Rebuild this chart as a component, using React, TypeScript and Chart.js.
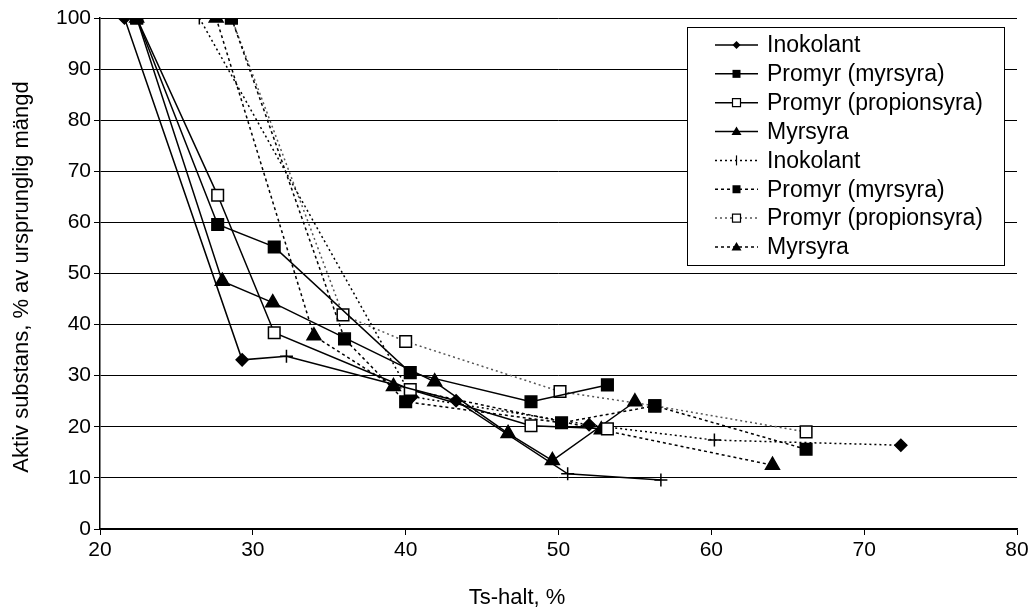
import React, { useEffect, useRef } from 'react';
import { Chart, registerables } from 'chart.js';
Chart.register(...registerables);

const FONT = "'Liberation Sans', Arial, sans-serif";

const xTicks = [20, 30, 40, 50, 60, 70, 80];
const yTicks = [0, 10, 20, 30, 40, 50, 60, 70, 80, 90, 100];
const xTitle = 'Ts-halt, %';
const yTitle = 'Aktiv substans, % av ursprunglig mängd';

const legendLabels = [
  'Inokolant', 'Promyr (myrsyra)', 'Promyr (propionsyra)', 'Myrsyra',
  'Inokolant', 'Promyr (myrsyra)', 'Promyr (propionsyra)', 'Myrsyra',
];

// Solid series
const inokolantSolidX = [21.6, 29.3, 32.2, 43.3, 50.6, 56.7];
const inokolantSolidY = [100, 33.1, 33.8, 25.1, 10.8, 9.6];
const promyrMyrSolidX = [22.4, 27.7, 31.4, 40.3, 48.2, 53.2];
const promyrMyrSolidY = [100, 59.6, 55.2, 30.6, 24.9, 28.2];
const promyrPropSolidX = [22.4, 27.7, 31.4, 40.3, 48.2, 53.2];
const promyrPropSolidY = [100, 65.3, 38.4, 27.3, 20.2, 19.6];
const myrsyraSolidX = [22.4, 28.0, 31.3, 41.9, 46.7, 49.6, 55.0];
const myrsyraSolidY = [100, 48.5, 44.3, 28.8, 18.7, 13.4, 24.9];

// Dotted series
const inokolantDotX = [26.5, 40.4, 52.0, 60.2, 72.4];
const inokolantDotY = [100, 25.9, 20.4, 17.4, 16.4];
const promyrMyrDotX = [28.6, 36.0, 40.0, 50.2, 56.3, 66.2];
const promyrMyrDotY = [100, 37.2, 24.9, 20.8, 24.1, 15.6];
const promyrPropDotX = [28.6, 35.9, 40.0, 50.1, 56.3, 66.2];
const promyrPropDotY = [100, 41.9, 36.7, 26.9, 24.1, 19.0];
const myrsyraDotX = [27.6, 34.0, 39.2, 52.8, 64.0];
const myrsyraDotY = [100, 37.8, 27.9, 19.4, 12.5];

const pts = (xs: number[], ys: number[]) => xs.map((x, i) => ({ x, y: ys[i] }));

const radiusFor = (s: string) =>
  s === 'rectRot' ? 6 : s === 'cross' ? 6.5 : s === 'rect' ? 8.2 : s === 'triangle' ? 8 : 5;

type Mk = 'diamond' | 'cross' | 'square' | 'open' | 'triangle';
const legendMarkers: Mk[] = ['diamond', 'square', 'open', 'triangle', 'cross', 'square', 'open', 'triangle'];

function drawMarker(ctx: CanvasRenderingContext2D, m: Mk, x: number, y: number) {
  ctx.save();
  ctx.setLineDash([]);
  ctx.lineWidth = 1.2;
  ctx.strokeStyle = '#000';
  ctx.fillStyle = '#000';
  ctx.beginPath();
  if (m === 'diamond') {
    const s = 4;
    ctx.moveTo(x, y - s); ctx.lineTo(x + s, y); ctx.lineTo(x, y + s); ctx.lineTo(x - s, y); ctx.closePath();
    ctx.fill();
  } else if (m === 'cross') {
    ctx.moveTo(x, y - 5); ctx.lineTo(x, y + 5);
    ctx.stroke();
  } else if (m === 'square' || m === 'open') {
    const s = 4;
    ctx.rect(x - s, y - s, 2 * s, 2 * s);
    if (m === 'square') ctx.fill(); else { ctx.fillStyle = '#fff'; ctx.fill(); ctx.stroke(); }
  } else {
    const s = 5;
    ctx.moveTo(x, y - s); ctx.lineTo(x + s, y + s * 0.7); ctx.lineTo(x - s, y + s * 0.7); ctx.closePath();
    ctx.fill();
  }
  ctx.restore();
}

export default function App() {
  const ref = useRef<HTMLCanvasElement | null>(null);
  useEffect(() => {
    document.body.style.margin = '0';
    const canvas = ref.current!;
    const solid = (label: string, data: any[], styles: string | string[], open = false) => ({
      label, data, showLine: true, borderColor: '#000', borderWidth: 1.5,
      pointStyle: styles,
      pointRadius: (c: any) => radiusFor(Array.isArray(styles) ? styles[c.dataIndex] : styles),
      pointBorderColor: '#000', pointBackgroundColor: open ? '#fff' : '#000', pointBorderWidth: 1.5,
      backgroundColor: '#000',
    });
    const dotted = (label: string, data: any[], styles: string | string[], dash: number[], color: string, open = false) => ({
      ...solid(label, data, styles, open), borderDash: dash, borderColor: color,
    });
    const legendDash: number[][] = [[], [], [], [], [2, 3], [3, 3], [2, 3], [3, 3]];
    const legendColor = ['#000', '#000', '#000', '#000', '#000', '#000', '#555', '#000'];

    const legendPlugin = {
      id: 'boxLegend',
      afterDraw(chart: any) {
        const ctx: CanvasRenderingContext2D = chart.ctx;
        const x0 = 687, y0 = 27, w = 317, h = 238;
        ctx.save();
        ctx.fillStyle = '#fff';
        ctx.fillRect(x0, y0, w, h);
        ctx.strokeStyle = '#000';
        ctx.lineWidth = 1;
        ctx.strokeRect(x0 + 0.5, y0 + 0.5, w, h);
        legendLabels.forEach((lab, i) => {
          const y = y0 + 18 + i * 28.85;
          ctx.beginPath();
          ctx.setLineDash(legendDash[i]);
          ctx.strokeStyle = legendColor[i];
          ctx.lineWidth = 1.5;
          ctx.moveTo(x0 + 28, y);
          ctx.lineTo(x0 + 71, y);
          ctx.stroke();
          drawMarker(ctx, legendMarkers[i], x0 + 49.5, y);
          ctx.setLineDash([]);
          ctx.fillStyle = '#000';
          ctx.font = `23px ${FONT}`;
          ctx.textBaseline = 'middle';
          ctx.textAlign = 'left';
          ctx.fillText(lab, x0 + 80, y + 1);
        });
        // axis titles
        ctx.font = `22px ${FONT}`;
        ctx.fillStyle = '#000';
        ctx.textAlign = 'center';
        ctx.textBaseline = 'middle';
        ctx.fillText(xTitle, 517, 598);
        ctx.translate(22, 277);
        ctx.rotate(-Math.PI / 2);
        ctx.fillText(yTitle, 0, 0);
        ctx.restore();
      },
    };

    const chart = new Chart(canvas, {
      type: 'scatter',
      data: {
        datasets: [
          solid(legendLabels[0], pts(inokolantSolidX, inokolantSolidY), ['rectRot', 'rectRot', 'cross', 'rectRot', 'cross', 'cross']),
          solid(legendLabels[1], pts(promyrMyrSolidX, promyrMyrSolidY), 'rect'),
          solid(legendLabels[2], pts(promyrPropSolidX, promyrPropSolidY), 'rect', true),
          solid(legendLabels[3], pts(myrsyraSolidX, myrsyraSolidY), 'triangle'),
          dotted(legendLabels[4], pts(inokolantDotX, inokolantDotY), ['cross', 'rectRot', 'rectRot', 'cross', 'rectRot'], [2, 3], '#000'),
          dotted(legendLabels[5], pts(promyrMyrDotX, promyrMyrDotY), 'rect', [3, 3], '#000'),
          dotted(legendLabels[6], pts(promyrPropDotX, promyrPropDotY), 'rect', [2, 3], '#555', true),
          dotted(legendLabels[7], pts(myrsyraDotX, myrsyraDotY), 'triangle', [3, 3], '#000'),
        ] as any,
      },
      options: {
        responsive: false,
        animation: false,
        layout: { padding: { left: 0, right: 16, top: 18, bottom: 0 } },
        plugins: { legend: { display: false }, tooltip: { enabled: false } },
        scales: {
          x: {
            type: 'linear', min: 20, max: 80,
            afterBuildTicks: (s: any) => { s.ticks = xTicks.map((v) => ({ value: v })); },
            afterFit: (s: any) => { s.height = 83; },
            ticks: { color: '#000', font: { family: FONT, size: 21 }, padding: 3 },
            grid: { drawOnChartArea: false, tickLength: 6, color: '#000', tickWidth: 1 },
            border: { color: '#000', width: 1.5 },
          },
          y: {
            type: 'linear', min: 0, max: 100,
            afterBuildTicks: (s: any) => { s.ticks = yTicks.map((v) => ({ value: v })); },
            afterFit: (s: any) => { s.width = 100; },
            ticks: { color: '#000', font: { family: FONT, size: 21 }, padding: 3 },
            grid: { color: '#000', lineWidth: 1, tickLength: 6 },
            border: { color: '#000', width: 1.5 },
          },
        },
      } as any,
      plugins: [legendPlugin],
    });
    return () => chart.destroy();
  }, []);
  return <canvas ref={ref} width={1033} height={612} style={{ display: 'block' }} />;
}
